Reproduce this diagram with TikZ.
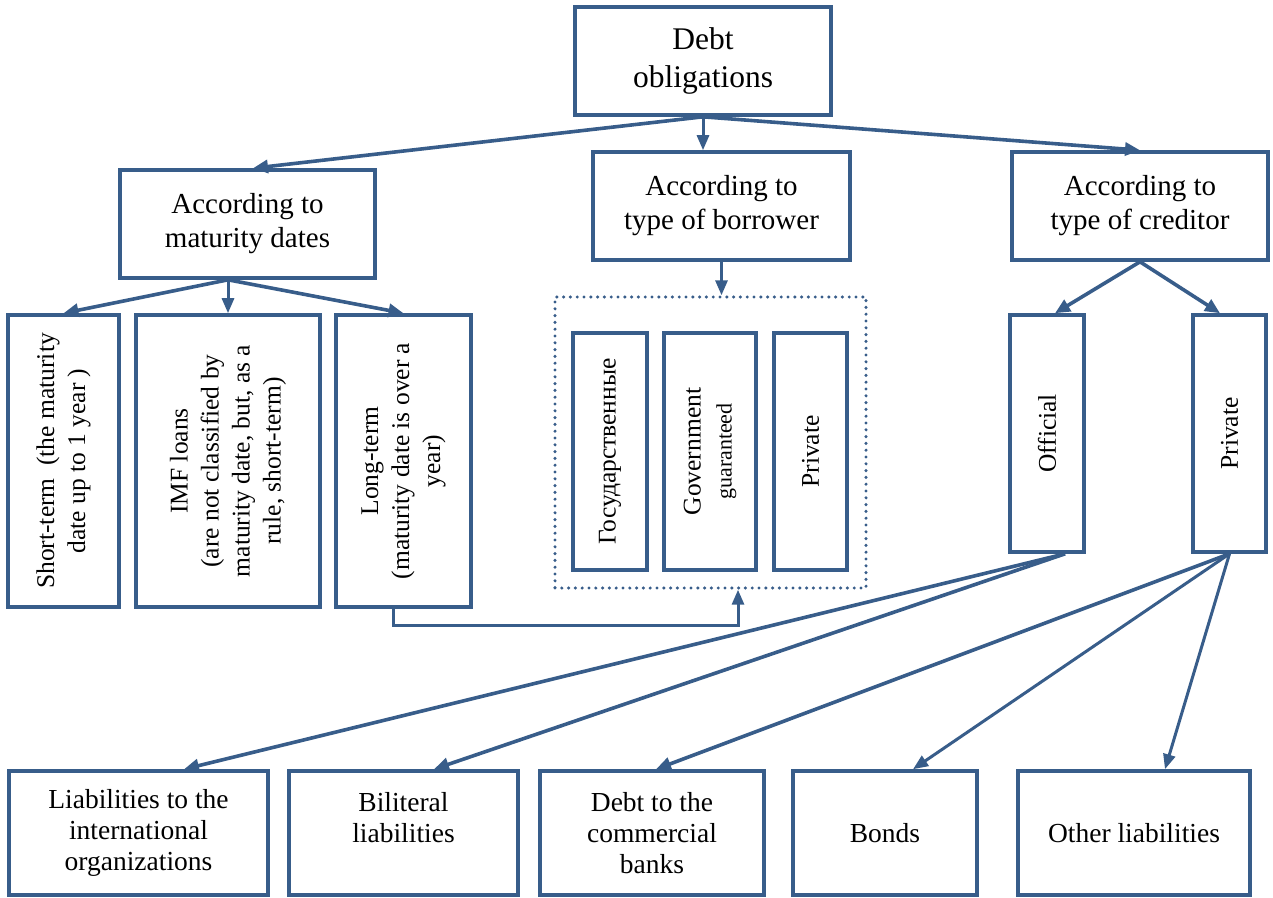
\documentclass[tikz,border=0pt]{standalone}
\usepackage{fontspec}
\setmainfont{Liberation Serif}
\usetikzlibrary{arrows.meta,calc}
\definecolor{bc}{RGB}{56,93,138}
\begin{document}
\begin{tikzpicture}[x=1pt,y=-1pt,
  box/.style={draw=bc,line width=3.6pt,inner sep=0pt,align=center,fill=white},
  bigf/.style={font=\fontsize{31.5}{38}\selectfont},
  midf/.style={font=\fontsize{29}{34}\selectfont},
  botf/.style={font=\fontsize{27.5}{31}\selectfont},
  rotf/.style={font=\fontsize{25.5}{31}\selectfont,rotate=90},
  arr/.style={draw=bc,line width=3.6pt,-{Triangle[length=15pt,width=13pt]}},
  arrthin/.style={draw=bc,line width=3pt,-{Triangle[length=15pt,width=12pt]}},
  dotbox/.style={draw=bc,line width=3.4pt,line cap=round,dash pattern=on 0pt off 6.8pt,inner sep=0pt}
]
\useasboundingbox (0,0) rectangle (1273,897);

% top level
\node[box,bigf,minimum width=256,minimum height=108] (debt) at (703,61) {Debt\\obligations};
\node[box,midf,minimum width=255,minimum height=108] (mat) at (247.5,224) {According to\\maturity dates};
\node[box,midf,minimum width=257,minimum height=108] (bor) at (721.5,206) {According to\\type of borrower};
\node[box,midf,minimum width=256,minimum height=108] (cred) at (1140,206) {According to\\type of creditor};

% maturity children (rotated)
\node[box,rotf,minimum width=292,minimum height=111] (short) at (63.5,461) {Short-term\ \ (the maturity\\date up to 1 year )};
\node[box,rotf,minimum width=292,minimum height=184] (imf) at (228,461) {IMF loans\\(are not classified by\\maturity date, but, as a\\rule, short-term)};
\node[box,rotf,minimum width=292,minimum height=135] (long) at (403.5,461) {Long-term\\(maturity date is over a\\year)};

% borrower group
\node[dotbox,minimum width=311,minimum height=291] (dot) at (710.5,442.5) {};
\node[box,rotf,minimum width=237,minimum height=74] (gos) at (610,451.5) {Государственные};
\node[box,rotf,minimum width=237,minimum height=92] (gov) at (710,451.5) {Government\\{\fontsize{22}{27}\selectfont guaranteed}};
\node[box,rotf,minimum width=237,minimum height=73] (privb) at (810.5,451.5) {Private};

% creditor children
\node[box,rotf,minimum width=237,minimum height=74] (off) at (1047,433.5) {Official};
\node[box,rotf,minimum width=237,minimum height=73] (privc) at (1229.5,433.5) {Private};

% bottom row
\node[box,botf,minimum width=259,minimum height=124] (liab) at (138.5,833) {Liabilities to the\\international\\organizations};
\node[box,botf,minimum width=229,minimum height=124] (bil) at (403.5,833) {Biliteral\\liabilities\\~};
\node[box,botf,minimum width=224,minimum height=124] (com) at (652,833) {Debt to the\\commercial\\banks};
\node[box,botf,minimum width=184,minimum height=124] (bonds) at (885,833) {Bonds};
\node[box,botf,minimum width=232,minimum height=124] (other) at (1134,833) {Other liabilities};

% connectors from Debt obligations
\draw[arr] (debt.south) -- ($(mat.north)+(5.5,0)$);
\draw[arrthin] (debt.south) -- (debt.south |- bor.north);
\draw[arr] (debt.south) -- (cred.north);

% from maturity
\coordinate (matS) at ($(mat.south)+(-19.5,0)$);
\draw[arr] (matS) -- (short.east);
\draw[arrthin] (matS) -- (matS |- imf.east);
\draw[arr] (matS) -- (long.east);

% from borrower
\draw[arrthin] (bor.south) -- (bor.south |- dot.north);

% long-term to group
\coordinate (longS) at ($(long.west)+(-10.5,0)$);
\coordinate (dotT) at ($(dot.south)+(27.5,0)$);
\draw[arrthin] (longS) -- ++(0,17) -| (dotT);

% from creditor
\draw[arr] (cred.south) -- ($(off.east)+(8,0)$);
\draw[arr] (cred.south) -- ($(privc.east)+(-9.5,0)$);

% from Official
\coordinate (offS) at ($(off.west)+(18,0)$);
\draw[arr] (offS) -- ($(liab.north)+(45.5,0)$);
\draw[arr] (offS) -- ($(bil.north)+(30.5,0)$);

% from Private
\coordinate (privS) at (privc.west);
\draw[arr] (privS) -- ($(com.north)+(4,0)$);
\draw[arrthin] (privS) -- ($(bonds.north)+(28,0)$);
\draw[arrthin] (privS) -- ($(other.north)+(31,0)$);
\end{tikzpicture}
\end{document}
